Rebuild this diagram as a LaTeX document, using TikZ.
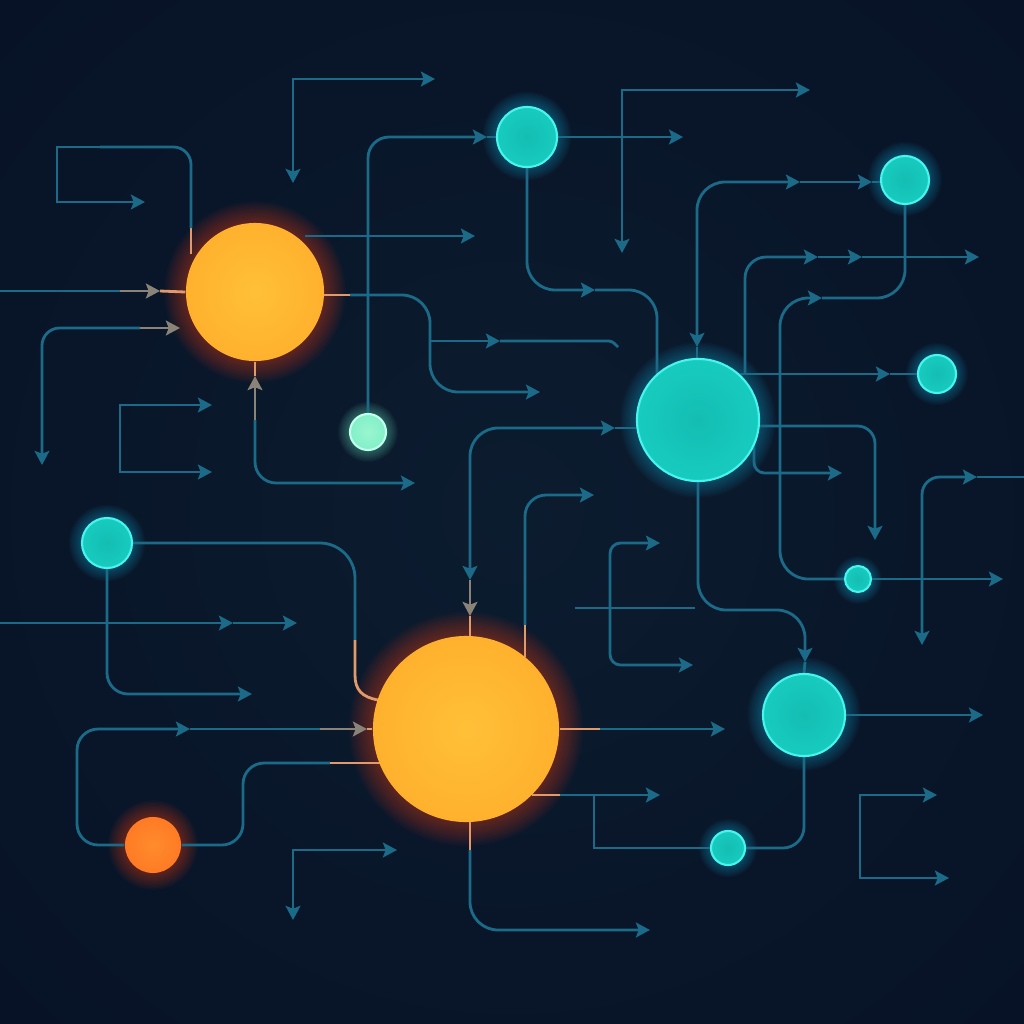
\documentclass[tikz,border=0pt]{standalone}
\usetikzlibrary{arrows.meta}

\definecolor{bgIn}{HTML}{0C1C2F}
\definecolor{bgMid}{HTML}{071226}
\definecolor{bgOut}{HTML}{02060F}
\definecolor{wireC}{HTML}{1B6A87}
\definecolor{warmC}{HTML}{E39A6A}
\definecolor{orCore}{HTML}{FFC038}
\definecolor{orMid}{HTML}{FFAE2B}
\definecolor{orEdge}{HTML}{FF9824}
\definecolor{orRim}{HTML}{FF6A1C}
\definecolor{orGlow}{HTML}{FF4E10}
\definecolor{rdCore}{HTML}{FF8C2C}
\definecolor{rdEdge}{HTML}{FF7020}
\definecolor{tqCore}{HTML}{14BDB2}
\definecolor{tqMid}{HTML}{18CEC2}
\definecolor{tqEdge}{HTML}{22E2D6}
\definecolor{tqRim}{HTML}{48F4EE}
\definecolor{tqGlow}{HTML}{1AB0D8}
\definecolor{mtCore}{HTML}{9AF6CF}
\definecolor{mtEdge}{HTML}{6EEAC4}
\definecolor{mtRim}{HTML}{C0FFEA}

\pgfdeclareradialshading{backdrop}{\pgfpoint{0bp}{0bp}}{color(0bp)=(bgIn); color(35bp)=(bgMid); color(71bp)=(bgOut)}
\pgfdeclareradialshading{warmorb}{\pgfpoint{0bp}{0bp}}{color(0bp)=(orCore); color(30bp)=(orMid); color(45bp)=(orEdge); color(50bp)=(orRim)}
\pgfdeclareradialshading{redorb}{\pgfpoint{0bp}{0bp}}{color(0bp)=(rdCore); color(40bp)=(rdEdge); color(50bp)=(orRim)}
\pgfdeclareradialshading{coolorb}{\pgfpoint{0bp}{0bp}}{color(0bp)=(tqCore); color(30bp)=(tqMid); color(46bp)=(tqEdge); color(50bp)=(tqRim)}
\pgfdeclareradialshading{mintorb}{\pgfpoint{0bp}{0bp}}{color(0bp)=(mtCore); color(44bp)=(mtEdge); color(50bp)=(mtRim)}

\pgfdeclarelayer{back}
\pgfdeclarelayer{wires}
\pgfsetlayers{back,wires,main}

\begin{document}
\begin{tikzpicture}[x=0.01cm, y=-0.01cm, >={Stealth[length=4pt,width=4.2pt,inset=0.8pt]},
  wire/.style={draw=wireC, line width=0.8pt},
  warm/.style={draw=warmC, line width=0.8pt},
  mix/.style={draw=warmC!55!wireC, line width=0.8pt},
  orb/.style={circle, inner sep=0pt, minimum size=#1, shade},
  hot/.style={shading=warmorb},
  ember/.style={shading=redorb},
  cool/.style={shading=coolorb, draw=tqRim, line width=0.6pt},
  mint/.style={shading=mintorb, draw=mtRim, line width=0.6pt}]
\useasboundingbox (0,0) rectangle (1024,1024);

\begin{pgfonlayer}{back}
\shade[shading=backdrop] (0,0) rectangle (1024,1024);
\foreach \cx/\cy/\r/\s/\gc in {255/292/69/1.8/orGlow, 466/729/93/2/orGlow, 153/845/28/1.4/orGlow,
    527/136/30/1.2/tqGlow, 905/179/24/1.1/tqGlow, 698/420/61/1.4/tqGlow, 937/374/19/1/tqGlow,
    368/432/18/1/mtEdge, 107/543/25/1.1/tqGlow, 804/714/41/1.3/tqGlow, 858/580/13/0.9/tqGlow, 728/848/17/1/tqGlow}
  \foreach \k in {1,...,12}
    \fill[\gc, opacity=0.035] (\cx,\cy) circle ({\r+\s*\k});
\end{pgfonlayer}

% orbs
\node[orb=1.38cm, hot] (orA) at (255,292) {};
\node[orb=1.86cm, hot] (orB) at (466,729) {};
\node[orb=0.56cm, ember] (orC) at (153,845) {};
\node[orb=0.60cm, cool] (tqA) at (527,137) {};
\node[orb=0.48cm, cool] (tqB) at (905,180) {};
\node[orb=1.22cm, cool] (tqC) at (698,420) {};
\node[orb=0.38cm, cool] (tqD) at (937,374) {};
\node[orb=0.36cm, mint] (mnt) at (368,432) {};
\node[orb=0.50cm, cool] (tqE) at (107,543) {};
\node[orb=0.82cm, cool] (tqF) at (804,715) {};
\node[orb=0.26cm, cool] (tqG) at (858,579) {};
\node[orb=0.34cm, cool] (tqH) at (728,848) {};

\begin{pgfonlayer}{wires}
% top left
\draw[wire,<->] (293,183) -- (293,79) -- (435,79);
\draw[warm] (191,254) -- (191,228);
\draw[wire,rounded corners=5pt] (191,228) |- (100,147);
\draw[wire,->] (100,147) -- (57,147) -- (57,202) -- (145,202);
\draw[wire] (0,291) -- (120,291);
\draw[mix,->] (120,291) -- (160,291);
\draw[warm] (160,291) -- (orA.west);
\draw[wire,<-,rounded corners=5pt] (42,465) |- (140,328);
\draw[mix,->] (140,328) -- (180,328);
\draw[wire,->] (305,236) -- (475,236);
\draw[warm] (323,295) -- (350,295);
\draw[wire,->,rounded corners=8pt] (350,295) -| (430,392) -- (540,392);
\draw[wire,->] (430,341) -- (500,341);
\draw[wire] (500,341) -- (605,341) .. controls (612,341) .. (618,347);
\draw[wire,->,rounded corners=6pt] (mnt.north) |- (487,137);
\draw[wire] (487,137) -- (tqA.west);
\draw[wire,->,rounded corners=6pt] (255,420) |- (415,483);
\draw[mix,->] (255,420) -- (255,376);
\draw[warm] (255,376) -- (orA.south);
\draw[wire,<->] (212,405) -- (120,405) -- (120,472) -- (212,472);

% top right
\draw[wire,->] (tqA.east) -- ++(125,0);
\draw[wire,<->] (622,253) -- (622,90) -- (810,90);
\draw[wire,->,rounded corners=8pt] (tqA.south) |- (595,290);
\draw[wire,rounded corners=8pt] (595,290) -| (657,375);
\draw[wire,<->,rounded corners=8pt] (800,182) -| (697,347);
\draw[wire] (697,347) -- (697,360);
\draw[wire,->] (800,182) -- (872,182);
\draw[wire] (872,182) -- (881,182);
\draw[wire,->,rounded corners=8pt] (tqG.west) -- (780,579) -- (780,298) -- (822,298);
\draw[wire,rounded corners=8pt] (822,298) -| (tqB.south);
\draw[wire,->,rounded corners=6pt] (745,374) |- (818,257);
\draw[wire,->] (818,257) -- (862,257);
\draw[wire,->] (862,257) -- (979,257);
\draw[wire,->] (740,374) -- (890,374);
\draw[wire] (890,374) -- (tqD.west);
\draw[wire,->,rounded corners=5pt] (759,426) -| (875,540);
\draw[wire,->,rounded corners=3pt] (754,444) |- (842,473);
\draw[wire,<->,rounded corners=5pt] (922,645) |- (977,477);
\draw[wire] (977,477) -- (1024,477);
\draw[wire,->] (tqG.east) -- ++(131,0);

% centre
\draw[wire,<->,rounded corners=8pt] (470,580) |- (615,428);
\draw[wire] (615,428) -- (638,428);
\draw[mix,->] (470,580) -- (470,616);
\draw[warm] (470,616) -- (470,636);
\draw[wire,->,rounded corners=6pt] (525,625) |- (594,495);
\draw[warm] (525,657) -- (525,625);
\draw[wire,<->,rounded corners=3pt] (660,543) -- (610,543) -- (610,665) -- (693,665);
\draw[wire] (575,608) -- (695,608);
\draw[wire,->,rounded corners=8pt] (tqC.south) -- (698,610) -- (805,610) -- (805,662);
\draw[wire] (805,662) -- (tqF.north);

% bottom left
\draw[wire,rounded corners=10pt] (tqE.east) -| (355,640);
\draw[warm] (355,640) -- (355,675) .. controls (355,690) and (362,697) .. (378,700);
\draw[wire,->,rounded corners=6pt] (tqE.south) |- (252,694);
\draw[wire,->] (0,623) -- (233,623);
\draw[wire,->] (233,623) -- (297,623);
\draw[wire,->,rounded corners=6pt] (orC.west) -| (77,729) -- (190,729);
\draw[wire] (190,729) -- (320,729);
\draw[mix,->] (320,729) -- (367,729);
\draw[warm] (367,729) -- (orB.west);
\draw[wire,rounded corners=6pt] (orC.east) -- (243,845) -- (243,763) -- (330,763);
\draw[warm] (330,763) -- (380,763);
\draw[wire,<->] (293,920) |- (397,850);
\draw[warm] (470,822) -- (470,850);
\draw[wire,->,rounded corners=8pt] (470,850) |- (650,930);

% bottom right
\draw[warm] (orB.east) -- (600,729);
\draw[wire,->] (600,729) -- (725,729);
\draw[warm] (532,795) -- (560,795);
\draw[wire,->] (560,795) -- (660,795);
\draw[wire] (tqH.west) -| (594,795);
\draw[wire,rounded corners=6pt] (tqF.south) |- (tqH.east);
\draw[wire,->] (tqF.east) -- ++(137,0);
\draw[wire,<->] (937,795) -- (860,795) -- (860,878) -- (949,878);
\end{pgfonlayer}
\end{tikzpicture}
\end{document}
